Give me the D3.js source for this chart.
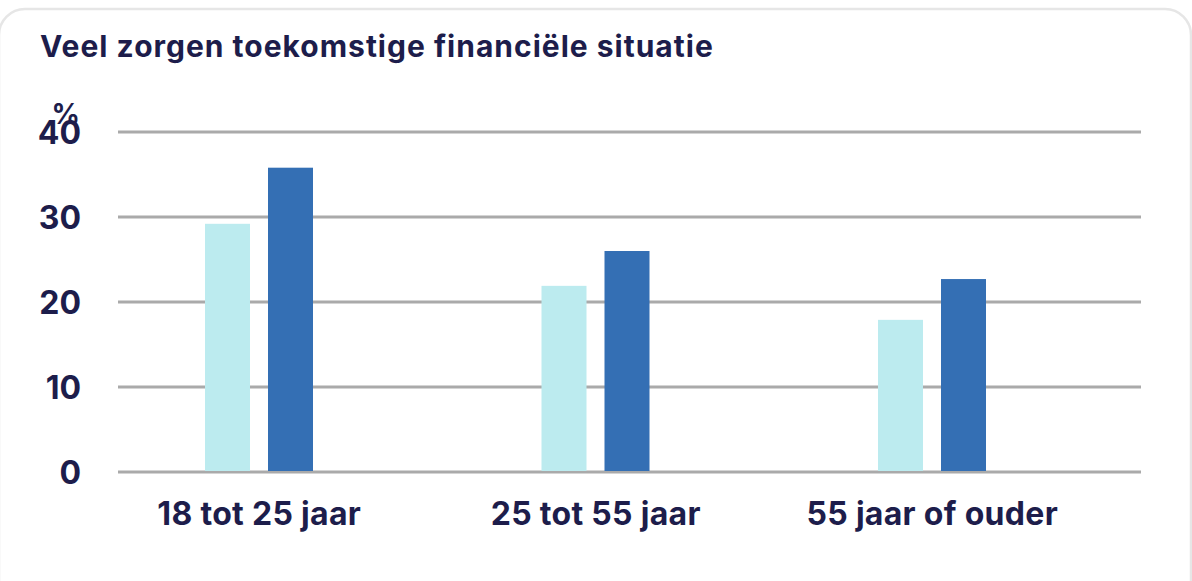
<!DOCTYPE html>
<html>
<head>
<meta charset="utf-8">
<script src="https://cdn.jsdelivr.net/npm/d3@7"></script>
<style>
  body { margin: 0; background: #fff; }
  svg { display: block; font-family: Inter, "Noto Sans", sans-serif; }
</style>
</head>
<body>
<div id="chart"></div>
<script>
const categories = ["18 tot 25 jaar", "25 tot 55 jaar", "55 jaar of ouder"];
const seriesNames = ["a", "b"];
const seriesA = [29.2, 21.9, 17.9];
const seriesB = [35.8, 26.0, 22.7];
const yTicks = [0, 10, 20, 30, 40];

const W = 1192, H = 581;
const textColor = "#1d1d4b";
const colors = { a: "#bcebef", b: "#346fb4" };

const svg = d3.select("#chart").append("svg")
    .attr("width", W)
    .attr("height", H);

// card outline
svg.append("rect")
    .attr("x", -1).attr("y", 9)
    .attr("width", W).attr("height", H + 40)
    .attr("rx", 26)
    .attr("fill", "#fff")
    .attr("stroke", "#e6e6e6")
    .attr("stroke-width", 2.5);

// title
svg.append("text")
    .attr("x", 40).attr("y", 57)
    .attr("fill", textColor)
    .attr("font-size", 30)
    .attr("font-weight", 700)
    .attr("letter-spacing", 1)
    .text("Veel zorgen toekomstige financiële situatie");

const y = d3.scaleLinear().domain([0, 40]).range([472, 132]);
const x0 = d3.scaleBand().domain(categories).range([91, 1100.5]);
const x1 = d3.scaleBand().domain(seriesNames).range([114, 222]).paddingInner(18 / 63);

// gridlines
svg.append("g")
    .selectAll("line")
    .data(yTicks)
    .join("line")
    .attr("x1", 118).attr("x2", 1141)
    .attr("y1", d => y(d)).attr("y2", d => y(d))
    .attr("stroke", "#aaaaaa")
    .attr("stroke-width", 3);

// y tick labels
svg.append("g")
    .selectAll("text")
    .data(yTicks)
    .join("text")
    .attr("x", 81)
    .attr("y", d => y(d))
    .attr("dy", "0.38em")
    .attr("text-anchor", "end")
    .attr("fill", textColor)
    .attr("font-size", 32)
    .attr("font-weight", 700)
    .text(d => d);

svg.append("text")
    .attr("x", 80).attr("y", 124)
    .attr("text-anchor", "end")
    .attr("fill", textColor)
    .attr("font-size", 28)
    .attr("font-weight", 700)
    .text("%");

// bars
const rows = categories.map((c, i) => ({ cat: c, a: seriesA[i], b: seriesB[i] }));

svg.append("g")
    .selectAll("g")
    .data(rows)
    .join("g")
    .attr("transform", d => `translate(${x0(d.cat)},0)`)
    .selectAll("rect")
    .data(d => seriesNames.map(k => ({ key: k, value: d[k] })))
    .join("rect")
    .attr("x", d => x1(d.key))
    .attr("width", x1.bandwidth())
    .attr("y", d => y(d.value))
    .attr("height", d => y(0) - 1 - y(d.value))
    .attr("fill", d => colors[d.key]);

// category labels
svg.append("g")
    .selectAll("text")
    .data(categories)
    .join("text")
    .attr("x", d => x0(d) + x0.bandwidth() / 2)
    .attr("y", 525)
    .attr("text-anchor", "middle")
    .attr("fill", textColor)
    .attr("font-size", 32)
    .attr("font-weight", 700)
    .attr("letter-spacing", 0.3)
    .text(d => d);
</script>
</body>
</html>
